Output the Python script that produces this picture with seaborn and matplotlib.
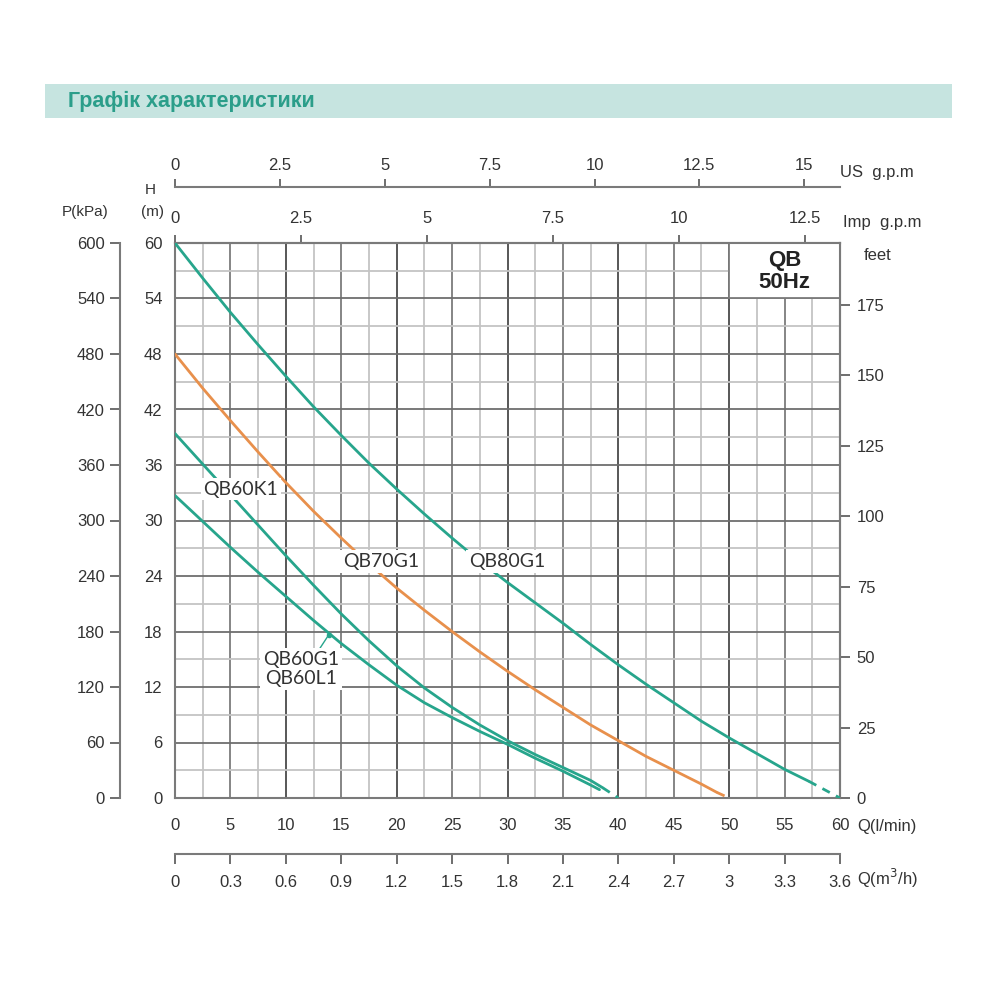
import numpy as np
import pandas as pd
import seaborn as sns
import matplotlib.pyplot as plt
from matplotlib.patches import Rectangle

# Pump curves: flow Q (l/min) against head H (m)
qb80g1_q = [0, 2.5, 5, 7.5, 10, 12.5, 15, 17.5, 20, 22.5, 25, 27.5, 30, 32.5, 35, 37.5, 40, 42.5, 45, 47.5, 50, 52.5, 55, 57.2]
qb80g1_h = [60, 56.2, 52.5, 49.0, 45.6, 42.3, 39.2, 36.2, 33.4, 30.7, 28.1, 25.6, 23.3, 21.1, 18.9, 16.6, 14.4, 12.3, 10.3, 8.3, 6.5, 4.8, 3.1, 1.8]
qb80g1_tail_q = [57.2, 60]
qb80g1_tail_h = [1.8, 0]

qb70g1_q = [0, 2.5, 5, 7.5, 10, 12.5, 15, 17.5, 20, 22.5, 25, 27.5, 30, 32.5, 35, 37.5, 40, 42.5, 45, 47.5, 48.9]
qb70g1_h = [48, 44.3, 40.8, 37.4, 34.1, 31.0, 28.1, 25.3, 22.7, 20.3, 18.0, 15.8, 13.7, 11.7, 9.8, 7.9, 6.2, 4.5, 3.0, 1.5, 0.6]
qb70g1_tail_q = [48.9, 50]
qb70g1_tail_h = [0.6, 0]

qb60k1_q = [0, 2.5, 5, 7.5, 10, 12.5, 15, 17.5, 20, 22.5, 25, 27.5, 30, 32.5, 35, 37.5, 38.6]
qb60k1_h = [39.4, 36.1, 32.8, 29.5, 26.2, 23.0, 19.9, 17.0, 14.3, 11.9, 9.8, 7.9, 6.2, 4.7, 3.3, 1.9, 1.1]
qb60k1_tail_q = [38.6, 40]
qb60k1_tail_h = [1.1, 0]

qb60g1_q = [0, 2.5, 5, 7.5, 10, 12.5, 15, 17.5, 20, 22.5, 25, 27.5, 30, 32.5, 35, 37.5, 38.3]
qb60g1_h = [32.7, 29.9, 27.1, 24.4, 21.8, 19.2, 16.7, 14.4, 12.2, 10.3, 8.7, 7.2, 5.8, 4.3, 2.9, 1.4, 0.9]

# Axis ticks
q_ticks = [0, 5, 10, 15, 20, 25, 30, 35, 40, 45, 50, 55, 60]
h_ticks = [0, 6, 12, 18, 24, 30, 36, 42, 48, 54, 60]
kpa_ticks = [0, 60, 120, 180, 240, 300, 360, 420, 480, 540, 600]
feet_ticks = [0, 25, 50, 75, 100, 125, 150, 175]
imp_ticks = [0, 2.5, 5, 7.5, 10, 12.5]
imp_labels = ['0', '2.5', '5', '7.5', '10', '12.5']
us_ticks = [0, 2.5, 5, 7.5, 10, 12.5, 15]
us_labels = ['0', '2.5', '5', '7.5', '10', '12.5', '15']
m3h_ticks = [0, 0.3, 0.6, 0.9, 1.2, 1.5, 1.8, 2.1, 2.4, 2.7, 3.0, 3.3, 3.6]
m3h_labels = ['0', '0.3', '0.6', '0.9', '1.2', '1.5', '1.8', '2.1', '2.4', '2.7', '3', '3.3', '3.6']

teal = '#27a58c'
orange = '#e8904c'
spine_col = '#7a7a7a'
txt_col = '#333333'

sns.set_style('white')
plt.rcParams['font.family'] = ['Liberation Sans', 'DejaVu Sans']

fig = plt.figure(figsize=(10, 10), dpi=100)

# title bar
fig.patches.append(Rectangle((0.045, 0.882), 0.907, 0.034, transform=fig.transFigure,
                             facecolor='#c6e4e0', edgecolor='none'))
fig.text(0.068, 0.899, 'Графік характеристики', fontsize=15.5, fontweight='bold',
         color='#2b9e8a', va='center', ha='left')

ax = fig.add_axes([0.175, 0.202, 0.665, 0.555])
ax.set_xlim(0, 60)
ax.set_ylim(0, 60)

# grid: light every 2.5 l/min / 3 m, darker every 5 l/min / 6 m, darkest every 10 l/min
for q in np.arange(2.5, 60, 2.5):
    if q % 10 == 0:
        c = '#4a4a4a'
    elif q % 5 == 0:
        c = '#7c7c7c'
    else:
        c = '#c4c4c4'
    ax.axvline(q, color=c, lw=1.3, zorder=0.5)
for h in np.arange(3, 60, 3):
    ax.axhline(h, color='#6e6e6e' if h % 6 == 0 else '#c4c4c4', lw=1.3, zorder=0.5)

ax.add_patch(Rectangle((50, 54), 10, 6, facecolor='white', edgecolor='#7c7c7c', lw=1.3, zorder=1))
ax.text(55, 56.9, 'QB\n50Hz', ha='center', va='center', fontsize=16, fontweight='bold',
        color='#222222', linespacing=1.1, zorder=2)

curves = [
    (qb80g1_q, qb80g1_h, qb80g1_tail_q, qb80g1_tail_h, teal),
    (qb70g1_q, qb70g1_h, qb70g1_tail_q, qb70g1_tail_h, orange),
    (qb60k1_q, qb60k1_h, qb60k1_tail_q, qb60k1_tail_h, teal),
]
for q, h, tq, th, c in curves:
    sns.lineplot(x=q, y=h, ax=ax, color=c, linewidth=2, zorder=3)
    sns.lineplot(x=tq, y=th, ax=ax, color=c, linewidth=2, linestyle=(0, (3, 2.5)), zorder=3)
sns.lineplot(x=qb60g1_q, y=qb60g1_h, ax=ax, color=teal, linewidth=2, zorder=3)

# curve labels
lab_kw = dict(fontsize=14, family=['Lato', 'DejaVu Sans'], color=txt_col, ha='center', va='center', zorder=5,
              bbox=dict(boxstyle='square,pad=0.15', facecolor='white', edgecolor='none'))
ax.text(5.95, 33.4, 'QB60K1', **lab_kw)
ax.text(18.6, 25.6, 'QB70G1', **lab_kw)
ax.text(30.0, 25.6, 'QB80G1', **lab_kw)
ax.text(11.4, 13.9, 'QB60G1\nQB60L1', linespacing=1.15, **lab_kw)
ax.plot([12.7, 13.85], [15.5, 17.6], color=teal, lw=1, zorder=4)
ax.plot([13.85], [17.6], 'o', color=teal, ms=3, zorder=4)

for s in ax.spines.values():
    s.set_color(spine_col)
    s.set_linewidth(1.5)

ax.set_xticks(q_ticks)
ax.set_yticks(h_ticks)
ax.tick_params(axis='x', direction='inout', length=9, width=1.2, color='#555555',
               labelsize=12, labelcolor=txt_col, pad=10, top=False)
ax.tick_params(axis='y', direction='inout', length=10, width=1.2, color='#555555',
               labelsize=12, labelcolor=txt_col, pad=4, right=False)
ax.set_xlabel('')
ax.set_ylabel('')

# secondary scales
imp = ax.secondary_xaxis('top', functions=(lambda q: q / 4.546, lambda g: g * 4.546))
us = ax.secondary_xaxis(1 + 56 / 555, functions=(lambda q: q / 3.785, lambda g: g * 3.785))
m3h = ax.secondary_xaxis(-56 / 555, functions=(lambda q: q * 0.06, lambda m: m / 0.06))
kpa = ax.secondary_yaxis(-55 / 665, functions=(lambda h: h * 10, lambda p: p / 10))
feet = ax.secondary_yaxis('right', functions=(lambda h: h * 3.2808, lambda f: f / 3.2808))

imp.set_xticks(imp_ticks, labels=imp_labels)
us.set_xticks(us_ticks, labels=us_labels)
m3h.set_xticks(m3h_ticks, labels=m3h_labels)
kpa.set_yticks(kpa_ticks)
feet.set_yticks(feet_ticks)

for sec, pad, ln in [(imp, 6, 6), (us, 4, 6), (m3h, 8, 7), (kpa, 4, 7), (feet, 5, 7)]:
    sec.tick_params(direction='out', length=ln, width=1.2, color='#555555',
                    labelsize=12, labelcolor=txt_col, pad=pad)
    for s in sec.spines.values():
        s.set_color(spine_col)
        s.set_linewidth(1.5)

# unit labels
unit_kw = dict(fontsize=12, color=txt_col, va='center')
fig.text(0.085, 1 - 0.212, 'P(kPa)', ha='center', fontsize=11, color=txt_col, va='center')
fig.text(0.150, 1 - 0.190, 'H', ha='center', fontsize=11, color=txt_col, va='center')
fig.text(0.152, 1 - 0.212, '(m)', ha='center', fontsize=11, color=txt_col, va='center')
fig.text(0.840, 1 - 0.173, 'US  g.p.m', ha='left', **unit_kw)
fig.text(0.843, 1 - 0.222, 'Imp  g.p.m', ha='left', **unit_kw)
fig.text(0.864, 1 - 0.255, 'feet', ha='left', **unit_kw)
fig.text(0.857, 1 - 0.826, 'Q(l/min)', ha='left', **unit_kw)
fig.text(0.857, 1 - 0.878, 'Q(m$^3$/h)', ha='left', **unit_kw)

fig.savefig('out.png', dpi=100, facecolor='white')
